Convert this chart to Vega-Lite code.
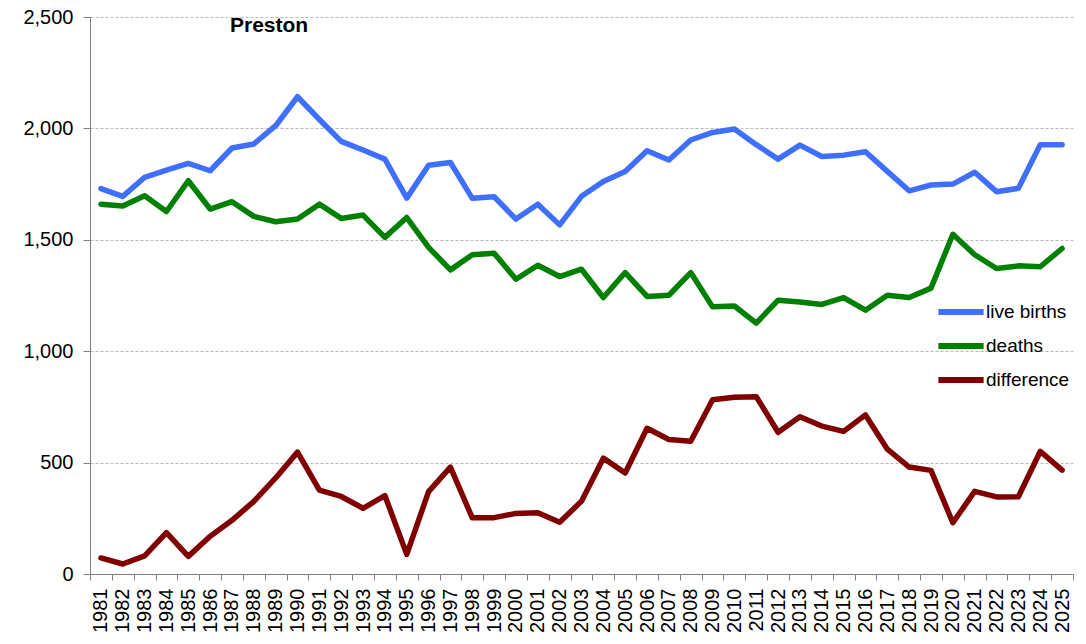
{
  "$schema": "https://vega.github.io/schema/vega-lite/v6.json",
  "autosize": {"type": "none"},
  "padding": {"left": 90, "top": 17, "right": 13, "bottom": 70},
  "width": 983,
  "height": 557,
  "background": "white",
  "config": {
    "font": "Liberation Sans",
    "view": {"stroke": null},
    "axis": {"labelFontSize": 20, "labelColor": "black", "domainColor": "#808080", "tickColor": "#808080", "title": null}
  },
  "title": {
    "text": "Preston",
    "anchor": "start",
    "frame": "group",
    "dx": 140,
    "offset": -46,
    "fontSize": 21,
    "fontWeight": "bold",
    "color": "black",
    "baseline": "alphabetic"
  },
  "data": {
    "values": [
      {"year": 1981, "live births": 1730, "deaths": 1660, "difference": 72},
      {"year": 1982, "live births": 1695, "deaths": 1652, "difference": 45},
      {"year": 1983, "live births": 1780, "deaths": 1698, "difference": 81},
      {"year": 1984, "live births": 1813, "deaths": 1627, "difference": 186},
      {"year": 1985, "live births": 1843, "deaths": 1765, "difference": 79},
      {"year": 1986, "live births": 1810, "deaths": 1638, "difference": 169},
      {"year": 1987, "live births": 1912, "deaths": 1671, "difference": 241},
      {"year": 1988, "live births": 1930, "deaths": 1605, "difference": 326},
      {"year": 1989, "live births": 2012, "deaths": 1581, "difference": 431},
      {"year": 1990, "live births": 2142, "deaths": 1593, "difference": 547},
      {"year": 1991, "live births": 2040, "deaths": 1660, "difference": 376},
      {"year": 1992, "live births": 1942, "deaths": 1596, "difference": 348},
      {"year": 1993, "live births": 1903, "deaths": 1611, "difference": 295},
      {"year": 1994, "live births": 1862, "deaths": 1511, "difference": 352},
      {"year": 1995, "live births": 1687, "deaths": 1600, "difference": 88},
      {"year": 1996, "live births": 1835, "deaths": 1466, "difference": 370},
      {"year": 1997, "live births": 1847, "deaths": 1365, "difference": 480},
      {"year": 1998, "live births": 1686, "deaths": 1433, "difference": 252},
      {"year": 1999, "live births": 1693, "deaths": 1440, "difference": 253},
      {"year": 2000, "live births": 1593, "deaths": 1323, "difference": 272},
      {"year": 2001, "live births": 1660, "deaths": 1386, "difference": 275},
      {"year": 2002, "live births": 1567, "deaths": 1335, "difference": 232},
      {"year": 2003, "live births": 1695, "deaths": 1368, "difference": 327},
      {"year": 2004, "live births": 1762, "deaths": 1241, "difference": 520},
      {"year": 2005, "live births": 1807, "deaths": 1353, "difference": 453},
      {"year": 2006, "live births": 1900, "deaths": 1246, "difference": 654},
      {"year": 2007, "live births": 1858, "deaths": 1251, "difference": 604},
      {"year": 2008, "live births": 1948, "deaths": 1353, "difference": 596},
      {"year": 2009, "live births": 1982, "deaths": 1199, "difference": 782},
      {"year": 2010, "live births": 1997, "deaths": 1203, "difference": 793},
      {"year": 2011, "live births": 1927, "deaths": 1126, "difference": 796},
      {"year": 2012, "live births": 1862, "deaths": 1229, "difference": 636},
      {"year": 2013, "live births": 1925, "deaths": 1221, "difference": 706},
      {"year": 2014, "live births": 1874, "deaths": 1210, "difference": 664},
      {"year": 2015, "live births": 1880, "deaths": 1241, "difference": 640},
      {"year": 2016, "live births": 1895, "deaths": 1184, "difference": 714},
      {"year": 2017, "live births": 1807, "deaths": 1251, "difference": 560},
      {"year": 2018, "live births": 1720, "deaths": 1241, "difference": 480},
      {"year": 2019, "live births": 1746, "deaths": 1283, "difference": 465},
      {"year": 2020, "live births": 1750, "deaths": 1525, "difference": 230},
      {"year": 2021, "live births": 1803, "deaths": 1433, "difference": 371},
      {"year": 2022, "live births": 1716, "deaths": 1371, "difference": 346},
      {"year": 2023, "live births": 1731, "deaths": 1383, "difference": 347},
      {"year": 2024, "live births": 1927, "deaths": 1379, "difference": 550},
      {"year": 2025, "live births": 1927, "deaths": 1461, "difference": 466}
    ]
  },
  "transform": [
    {"fold": ["live births", "deaths", "difference"], "as": ["series", "value"]}
  ],
  "mark": {"type": "line", "strokeWidth": 5.5, "strokeJoin": "round", "strokeCap": "round"},
  "encoding": {
    "x": {
      "field": "year",
      "type": "ordinal",
      "scale": {"type": "band", "paddingInner": 0, "paddingOuter": 0},
      "axis": {
        "labelAngle": -90,
        "tickBand": "extent",
        "tickSize": 6,
        "labelPadding": 8,
        "grid": false
      }
    },
    "y": {
      "field": "value",
      "type": "quantitative",
      "scale": {"domain": [0, 2500], "nice": false},
      "axis": {
        "values": [0, 500, 1000, 1500, 2000, 2500],
        "format": ",d",
        "tickSize": 7,
        "labelPadding": 10,
        "grid": true,
        "gridColor": "#b8b8b8",
        "gridDash": [3, 2],
        "gridWidth": 1
      }
    },
    "color": {
      "field": "series",
      "type": "nominal",
      "sort": ["live births", "deaths", "difference"],
      "scale": {"domain": ["live births", "deaths", "difference"], "range": ["#3f6fff", "#008000", "#800000"]},
      "legend": {
        "title": null,
        "orient": "none",
        "legendX": 849,
        "legendY": 273,
        "padding": 0,
        "symbolType": "M-1.2,0H1.2",
        "symbolSize": 1420,
        "symbolStrokeWidth": 6,
        "labelFontSize": 19,
        "labelColor": "black",
        "labelOffset": 3,
        "rowPadding": 0
      }
    }
  }
}
